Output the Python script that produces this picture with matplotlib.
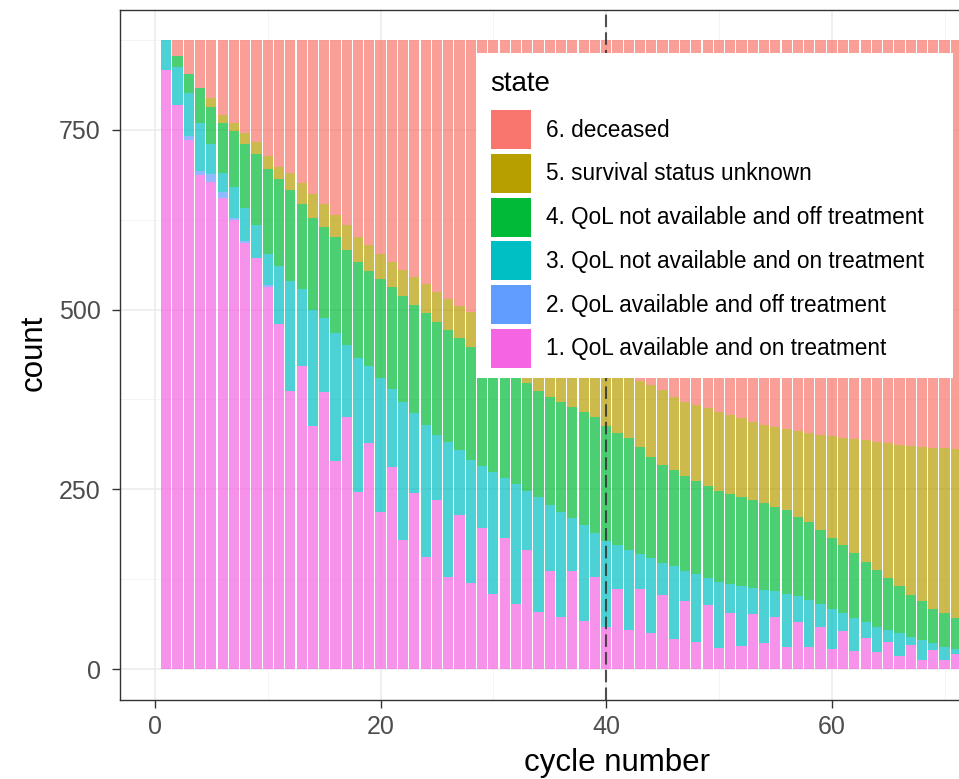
import matplotlib
matplotlib.use("Agg")
import matplotlib.pyplot as plt
from matplotlib.patches import Patch, Rectangle
from matplotlib.ticker import MultipleLocator

plt.rcParams['font.family'] = ['Liberation Sans', 'DejaVu Sans']

cycles = list(range(1, 72))

legend_title = "state"
states = ["1. QoL available and on treatment",
          "2. QoL available and off treatment",
          "3. QoL not available and on treatment",
          "4. QoL not available and off treatment",
          "5. survival status unknown",
          "6. deceased"]
colors = ["#F564E3", "#619CFF", "#00BFC4", "#00BA38", "#B79F00", "#F8766D"]

s1 = [834, 785, 736, 687, 678, 655, 624, 592, 572, 531,
      480, 387, 422, 338, 386, 289, 350, 246, 314, 219,
      281, 179, 245, 156, 235, 128, 214, 119, 196, 105,
      182, 91, 166, 80, 136, 73, 136, 67, 128, 59,
      112, 54, 112, 50, 103, 42, 94, 37, 89, 29,
      78, 32, 76, 36, 73, 31, 65, 30, 59, 28,
      53, 25, 43, 23, 38, 18, 34, 13, 27, 13, 21]
s2 = [0, 0, 6, 6, 10, 8, 3, 4, 0, 3,
      0, 0, 0, 0, 0, 0, 0, 0, 0, 0,
      0, 0, 0, 0, 0, 0, 0, 0, 0, 0,
      0, 0, 0, 0, 0, 0, 0, 0, 0, 0,
      0, 0, 0, 0, 0, 0, 0, 0, 0, 0,
      0, 0, 0, 0, 0, 0, 0, 0, 0, 0,
      0, 0, 0, 0, 0, 0, 0, 0, 0, 0, 0]
s3 = [41, 53, 60, 66, 42, 27, 43, 45, 46, 44,
      80, 153, 106, 162, 102, 179, 101, 187, 107, 186,
      109, 193, 111, 184, 91, 188, 90, 172, 86, 169,
      84, 166, 82, 159, 92, 145, 74, 133, 61, 119,
      60, 111, 48, 104, 45, 101, 43, 95, 37, 92,
      40, 84, 37, 74, 35, 74, 36, 66, 32, 56,
      25, 46, 23, 36, 16, 32, 11, 27, 9, 18, 7]
s4 = [0, 15, 26, 49, 52, 69, 78, 89, 98, 118,
      121, 127, 119, 127, 127, 133, 132, 133, 133, 138,
      141, 147, 151, 155, 157, 155, 156, 157, 156, 154,
      152, 151, 150, 148, 150, 154, 155, 158, 161, 160,
      157, 156, 149, 141, 136, 134, 131, 129, 128, 127,
      126, 123, 122, 121, 118, 116, 111, 109, 102, 98,
      95, 90, 83, 79, 72, 65, 58, 54, 48, 47, 43]
s5 = [0, 0, 0, 0, 12, 12, 11, 15, 17, 17,
      18, 23, 29, 34, 32, 31, 35, 35, 36, 35,
      35, 36, 38, 40, 42, 44, 45, 49, 52, 55,
      58, 61, 64, 68, 71, 71, 72, 73, 75, 81,
      84, 86, 91, 100, 104, 102, 104, 106, 109, 110,
      109, 110, 109, 109, 111, 113, 119, 123, 133, 142,
      149, 159, 169, 178, 188, 197, 207, 215, 224, 229, 235]
s6 = [0, 22, 47, 67, 81, 104, 116, 130, 142, 162,
      176, 185, 199, 214, 228, 243, 257, 274, 285, 297,
      309, 320, 330, 340, 350, 360, 370, 378, 385, 392,
      399, 406, 413, 420, 426, 432, 438, 444, 450, 456,
      462, 468, 475, 480, 487, 496, 503, 508, 512, 517,
      522, 526, 531, 535, 538, 541, 544, 547, 549, 551,
      553, 555, 557, 559, 561, 563, 565, 566, 567, 568, 569]
series = [s1, s2, s3, s4, s5, s6]

xticks = [0, 20, 40, 60]
yticks = [0, 250, 500, 750]
vline_x = 40

W, H = 959, 779
AX_L, AX_B, AX_W, AX_H = 120, 700, 839, 690   # pixel layout of the panel


def ax_x(px):
    return (px - AX_L) / AX_W


def ax_y(py):
    return (AX_B - py) / AX_H


fig = plt.figure(figsize=(W / 100, H / 100), dpi=100)
ax = fig.add_axes([AX_L / W, 1 - AX_B / H, AX_W / W, AX_H / H])

bottom = [0] * len(cycles)
for vals, col in zip(series, colors):
    ax.bar(cycles, vals, bottom=bottom, width=0.9, color=col, alpha=0.7,
           linewidth=0, zorder=2)
    bottom = [b + v for b, v in zip(bottom, vals)]

ax.axvline(vline_x, color="#333333", alpha=0.85, lw=1.5,
           linestyle=(0, (6, 2.5)), zorder=3)

ax.set_xlim(-3.1, 71.28)
ax.set_ylim(-43.1, 916.8)
ax.set_xticks(xticks)
ax.set_yticks(yticks)
ax.xaxis.set_minor_locator(MultipleLocator(10))
ax.yaxis.set_minor_locator(MultipleLocator(125))
ax.set_axisbelow(True)
ax.grid(which="major", color="#EBEBEB", lw=1.1, zorder=0)
ax.grid(which="minor", color="#F2F2F2", lw=0.6, zorder=0)
ax.tick_params(which="minor", length=0)
ax.tick_params(axis="both", which="major", length=5.5, width=1.0,
               color="#333333", labelcolor="#4D4D4D", labelsize=18)
ax.tick_params(axis="y", pad=8.5)
ax.tick_params(axis="x", pad=5)

for side in ["left", "bottom", "top"]:
    ax.spines[side].set_color("#333333")
    ax.spines[side].set_linewidth(1.0)
ax.spines["right"].set_visible(False)

ax.set_xlabel("cycle number", fontsize=22.5, color="black")
ax.set_ylabel("count", fontsize=22.5, color="black")
ax.xaxis.set_label_coords(ax_x(617), ax_y(763))
ax.xaxis.label.set_va("center")
ax.yaxis.set_label_coords(ax_x(34), ax_y(353))
ax.yaxis.label.set_va("center")

# legend background box and title
ax.add_patch(Rectangle((ax_x(477), ax_y(378)), ax_x(953) - ax_x(477),
                       ax_y(53) - ax_y(378), transform=ax.transAxes,
                       facecolor="white", edgecolor="none", zorder=4,
                       clip_on=False))
ax.text(ax_x(490), ax_y(84), legend_title, transform=ax.transAxes,
        fontsize=20, color="black", ha="left", va="center", zorder=6)

handles = [Patch(facecolor=c, edgecolor="none") for c in colors][::-1]
labels = states[::-1]
fs = 16.3
leg = ax.legend(handles, labels, loc="upper left",
                bbox_to_anchor=(ax_x(491), ax_y(110)),
                borderaxespad=0, frameon=False, fontsize=fs,
                handlelength=1.77, handleheight=2.275,
                labelspacing=0.21, handletextpad=0.66, borderpad=0)
leg.set_zorder(5)

fig.savefig("out.png", dpi=100)
